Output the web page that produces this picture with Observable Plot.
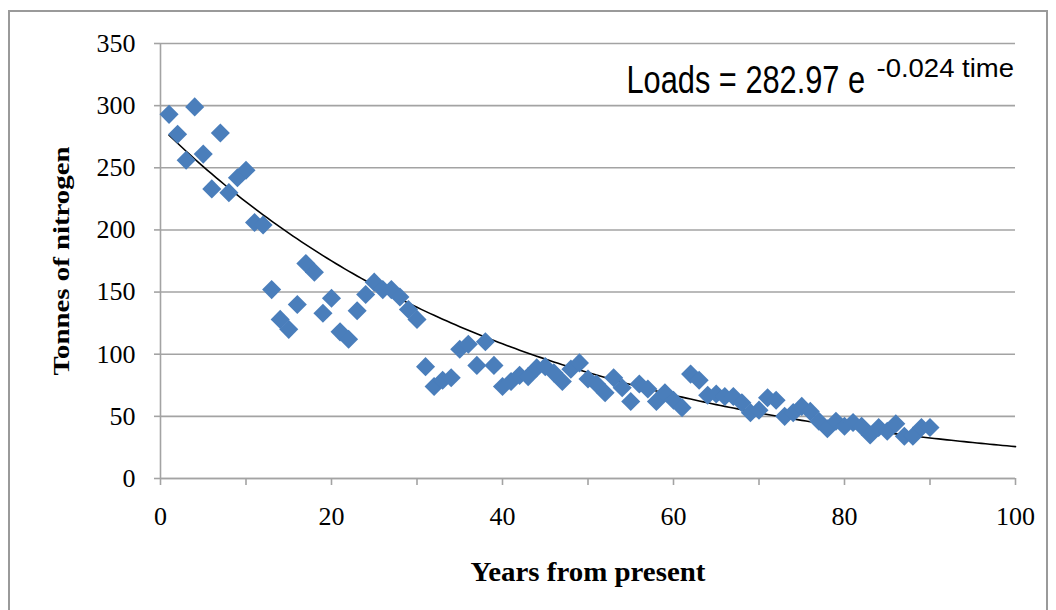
<!DOCTYPE html>
<html>
<head>
<meta charset="utf-8">
<script src="https://cdn.jsdelivr.net/npm/d3@7"></script>
<script src="https://cdn.jsdelivr.net/npm/@observablehq/plot@0.6"></script>
<style>
  html, body { margin: 0; padding: 0; background: #fff; }
  #wrap { position: relative; width: 1056px; height: 610px; overflow: hidden; background: #fff; }
  #border { position: absolute; left: 8px; top: 10px; width: 1040px; height: 640px; border: 2px solid #9a9a9a; box-sizing: border-box; }
  #chart { position: absolute; left: 0; top: 0; }
</style>
</head>
<body>
<div id="wrap"><div id="border"></div><div id="chart"></div></div>
<script>
const years = [1,2,3,4,5,6,7,8,9,10,11,12,13,14,15,16,17,18,19,20,21,22,23,24,25,26,27,28,29,30,
  31,32,33,34,35,36,37,38,39,40,41,42,43,44,45,46,47,48,49,50,51,52,53,54,55,56,57,58,59,60,
  61,62,63,64,65,66,67,68,69,70,71,72,73,74,75,76,77,78,79,80,81,82,83,84,85,86,87,88,89,90];
const loads = [293,277,256,299,261,233,278,230,242,248,206,204,152,128,120,140,173,166,133,145,
  118,112,135,148,158,152,152,146,136,128,90,74,79,81,104,108,91,110,91,74,
  78,83,82,89,90,85,78,88,93,80,76,69,81,73,62,76,72,62,69,63,
  57,84,79,67,68,66,66,61,53,55,65,63,50,53,58,54,46,40,46,42,
  45,42,35,41,38,44,34,34,41,41];
const trendCoef = 282.97;
const trendRate = -0.024;
const trendStart = 1, trendEnd = 100;
const xTicks = [0,10,20,30,40,50,60,70,80,90,100];
const yTicks = [0,50,100,150,200,250,300,350];
const equationMain = "Loads = 282.97 e";
const equationSup = "-0.024 time";
const xTitle = "Years from present";
const yTitle = "Tonnes of nitrogen";

const points = years.map((t, i) => ({t, v: loads[i]}));
const trend = d3.range(trendStart, trendEnd + 0.001, 0.5).map(t => ({t, v: trendCoef * Math.exp(trendRate * t)}));

const grey = "#a3a3a3";
const chart = Plot.plot({
  width: 1056, height: 610,
  marginLeft: 160, marginRight: 41, marginTop: 43, marginBottom: 132,
  x: {domain: [0, 100]},
  y: {domain: [0, 350]},
  style: {fontFamily: "'Liberation Serif', serif", fontSize: "26px", color: "#000", background: "transparent", overflow: "visible"},
  marks: [
    Plot.gridY(yTicks, {stroke: grey, strokeOpacity: 1, strokeWidth: 1.6}),
    Plot.ruleX([0], {stroke: grey, strokeWidth: 1.6}),
    Plot.ruleY([0], {stroke: grey, strokeWidth: 1.6}),
    Plot.axisY(yTicks, {tickSize: 6, tickPadding: 19, stroke: grey, strokeWidth: 1.6, label: null, fontSize: 26}),
    Plot.axisX(xTicks, {tickSize: 7, tickPadding: 21, stroke: grey, strokeWidth: 1.6, label: null, fontSize: 26,
      tickFormat: d => d % 20 === 0 ? String(d) : ""}),
    Plot.line(trend, {x: "t", y: "v", stroke: "#000", strokeWidth: 1.6, curve: "linear"}),
    Plot.dot(points, {x: "t", y: "v", symbol: "diamond2", r: 8.6, fill: "#4A7EBB", stroke: "none"}),
    Plot.text([yTitle], {frameAnchor: "left", dx: -99, rotate: -90, textAnchor: "middle", lineAnchor: "middle",
      fontWeight: "bold", fontSize: 24, className: "ytitle"}),
    Plot.text([xTitle], {frameAnchor: "bottom", dy: 94, textAnchor: "middle", lineAnchor: "middle",
      fontWeight: "bold", fontSize: 27, className: "xtitle"}),
    Plot.text([equationMain], {frameAnchor: "top-right", dx: -389, dy: 49, textAnchor: "start", lineAnchor: "bottom",
      fontSize: 38, fontFamily: "'Liberation Sans', sans-serif", className: "eqmain"}),
    Plot.text([equationSup], {frameAnchor: "top-right", dx: -139, dy: 33, textAnchor: "start", lineAnchor: "bottom",
      fontSize: 25, fontFamily: "'Liberation Sans', sans-serif", className: "eqsup"})
  ]
});
const svg = d3.select(chart);
const fit = (cls, len) => svg.selectAll(`.${cls} text`).attr("textLength", len).attr("lengthAdjust", "spacingAndGlyphs");
fit("ytitle", 229);
fit("xtitle", 235);
// horizontally condense a text element around its own anchor (Calibri-like narrow look)
const condense = (cls, sx) => svg.selectAll(`.${cls} text`).each(function () {
  const t = d3.select(this);
  const x = +t.attr("x") || 0, y = +t.attr("y") || 0;
  const tr = t.attr("transform") || "";
  t.attr("x", null).attr("y", null).attr("transform", `${tr} translate(${x},${y}) scale(${sx},1)`);
});
condense("eqmain", 0.81);
condense("eqsup", 1.1);
document.getElementById("chart").appendChild(chart);
</script>
</body>
</html>
